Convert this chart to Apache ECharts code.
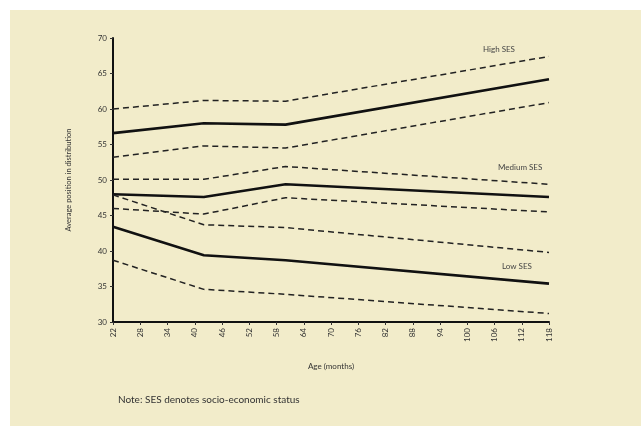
<!DOCTYPE html>
<html>
<head>
<meta charset="utf-8">
<script src="https://cdn.jsdelivr.net/npm/echarts@6/dist/echarts.min.js"></script>
<style>
html,body{margin:0;padding:0;background:#ffffff;}
#chart{position:absolute;left:10px;top:10px;width:631px;height:416px;}
</style>
</head>
<body>
<div id="chart"></div>
<script>
// Ages (months) at which measurements were taken
const ages = ['22', '42', '60', '118'];
// High SES
const highMean  = [56.6, 58.0, 57.8, 64.2];
const highUpper = [60.0, 61.2, 61.1, 67.4];
const highLower = [53.2, 54.8, 54.5, 60.9];
// Medium SES
const medMean  = [48.0, 47.6, 49.4, 47.6];
const medUpper = [50.1, 50.1, 51.9, 49.4];
const medLower = [46.0, 45.2, 47.5, 45.5];
// Low SES
const lowMean  = [43.4, 39.4, 38.7, 35.4];
const lowUpper = [47.9, 43.7, 43.3, 39.8];
const lowLower = [38.7, 34.6, 33.9, 31.2];

// x-axis categories: every month 22..118, labelled every 6
const xCategories = [];
for (let m = 22; m <= 118; m++) xCategories.push(String(m));
const yMin = 30, yMax = 70, yStep = 5;

const font = 'Lato, "Open Sans", sans-serif';
const chart = echarts.init(document.getElementById('chart'));

function pairs(vals) { return ages.map((a, i) => [a, vals[i]]); }
function solid(name, vals) {
  return { name, type: 'line', data: pairs(vals), symbol: 'none', silent: true,
    lineStyle: { color: '#111', width: 2.6, type: 'solid' } };
}
function dashed(name, vals) {
  return { name, type: 'line', data: pairs(vals), symbol: 'none', silent: true,
    lineStyle: { color: '#222', width: 1.5, type: [6, 4] } };
}

chart.setOption({
  backgroundColor: '#f2ecca',
  animation: false,
  grid: { left: 103, right: 92, top: 28, bottom: 104 },
  xAxis: {
    type: 'category', data: xCategories, boundaryGap: false,
    name: 'Age (months)', nameLocation: 'middle', nameGap: 40,
    nameTextStyle: { fontFamily: font, fontSize: 8, color: '#333' },
    axisLine: { lineStyle: { color: '#111', width: 2 } },
    axisTick: { interval: 5, length: 3, lineStyle: { color: '#333', width: 1 } },
    axisLabel: { interval: 5, rotate: 90, fontFamily: font, fontSize: 8, color: '#333', margin: 6 },
    splitLine: { show: false }
  },
  yAxis: {
    type: 'value', min: yMin, max: yMax, interval: yStep,
    name: 'Average position in distribution', nameLocation: 'middle', nameGap: 40,
    nameTextStyle: { fontFamily: font, fontSize: 7.5, color: '#333' },
    axisLine: { show: true, lineStyle: { color: '#111', width: 2 } },
    axisTick: { show: true, length: 3, lineStyle: { color: '#333', width: 1 } },
    axisLabel: { fontFamily: font, fontSize: 8, color: '#333', margin: 6 },
    splitLine: { show: false }
  },
  series: [
    dashed('High upper', highUpper), solid('High SES', highMean), dashed('High lower', highLower),
    dashed('Medium upper', medUpper), solid('Medium SES', medMean), dashed('Medium lower', medLower),
    dashed('Low upper', lowUpper), solid('Low SES', lowMean), dashed('Low lower', lowLower)
  ],
  graphic: [
    { type: 'text', left: 473, top: 35, style: { text: 'High SES', font: '8px ' + font, fill: '#444' } },
    { type: 'text', left: 488, top: 153, style: { text: 'Medium SES', font: '8px ' + font, fill: '#444' } },
    { type: 'text', left: 492, top: 252, style: { text: 'Low SES', font: '8px ' + font, fill: '#444' } },
    { type: 'text', left: 108, top: 385, style: { text: 'Note: SES denotes socio-economic status', font: '10px ' + font, fill: '#333' } }
  ]
});
</script>
</body>
</html>
